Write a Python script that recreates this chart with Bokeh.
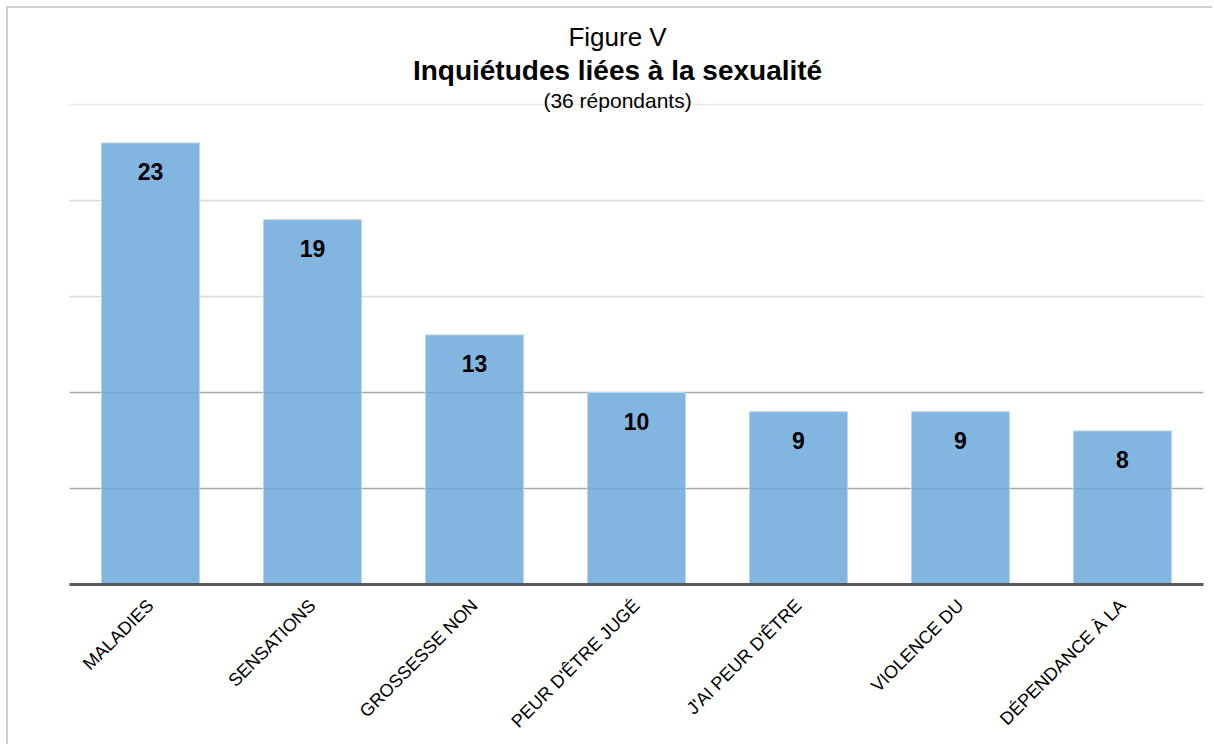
import math

from bokeh.embed import file_html
from bokeh.models import ColumnDataSource, FactorRange, FixedTicker, Grid, Label, Range1d
from bokeh.plotting import figure
from bokeh.resources import INLINE

# Survey answers: worries related to sexuality (36 respondents)
categories = [
    "MALADIES",
    "SENSATIONS",
    "GROSSESSE NON",
    "PEUR D'ÊTRE JUGÉ",
    "J'AI PEUR D'ÊTRE",
    "VIOLENCE DU",
    "DÉPENDANCE À LA",
]
counts = [23, 19, 13, 10, 9, 9, 8]
value_labels = [str(c) for c in counts]

title_lines = ["Figure V", "Inquiétudes liées à la sexualité", "(36 répondants)"]

FONT = "Liberation Sans"

source = ColumnDataSource(dict(cat=categories, count=counts, label=value_labels))

p = figure(
    x_range=FactorRange(factors=categories, range_padding=0),
    y_range=Range1d(0, 29.375),
    width=1206,
    height=738,
    output_backend="svg",
    toolbar_location=None,
    y_axis_location=None,
    min_border_left=61,
    min_border_right=11,
    min_border_top=12,
    min_border_bottom=162,
    outline_line_color=None,
    background_fill_color="white",
    border_fill_color="white",
)
p.margin = (6, 0, 0, 6)
p.styles = {
    "border-top": "2px solid #d0d0d0",
    "border-left": "2px solid #d0d0d0",
}

# Horizontal guides, darker towards the baseline
p.xgrid.visible = False
p.ygrid.visible = False
for ticks, color in (([25], "#e8e8e8"), ([15, 20], "#d9d9d9"), ([5, 10], "#a8a8a8")):
    p.add_layout(
        Grid(
            dimension=1,
            ticker=FixedTicker(ticks=ticks),
            grid_line_color=color,
            grid_line_width=1.5,
        )
    )

p.vbar(
    x="cat",
    top="count",
    width=0.605,
    source=source,
    fill_color="#6ca9da",
    fill_alpha=0.85,
    line_color="#b8d7f1",
    line_width=1,
)

p.text(
    x="cat",
    y="count",
    text="label",
    source=source,
    y_offset=29,
    text_align="center",
    text_baseline="middle",
    text_font={"value": FONT},
    text_font_size="23px",
    text_font_style="bold",
    text_color="black",
)

# Baseline and slanted category labels
xa = p.xaxis[0]
xa.axis_line_color="#595959"
xa.axis_line_width = 3
xa.major_tick_line_color = None
xa.minor_tick_line_color = None
xa.major_label_orientation = math.pi / 4
xa.major_label_text_font = FONT
xa.major_label_text_font_size = "18px"
xa.major_label_text_color = "black"
xa.major_label_standoff = 12

title_x = 3.383
for text, y, size, style in (
    (title_lines[0], 28.49, "26px", "normal"),
    (title_lines[1], 26.77, "28px", "bold"),
    (title_lines[2], 25.21, "21px", "normal"),
):
    p.add_layout(
        Label(
            x=title_x,
            y=y,
            text=text,
            text_align="center",
            text_baseline="middle",
            text_font=FONT,
            text_font_size=size,
            text_font_style=style,
            text_color="black",
        )
    )

open("out.html", "w").write(file_html(p, INLINE))
